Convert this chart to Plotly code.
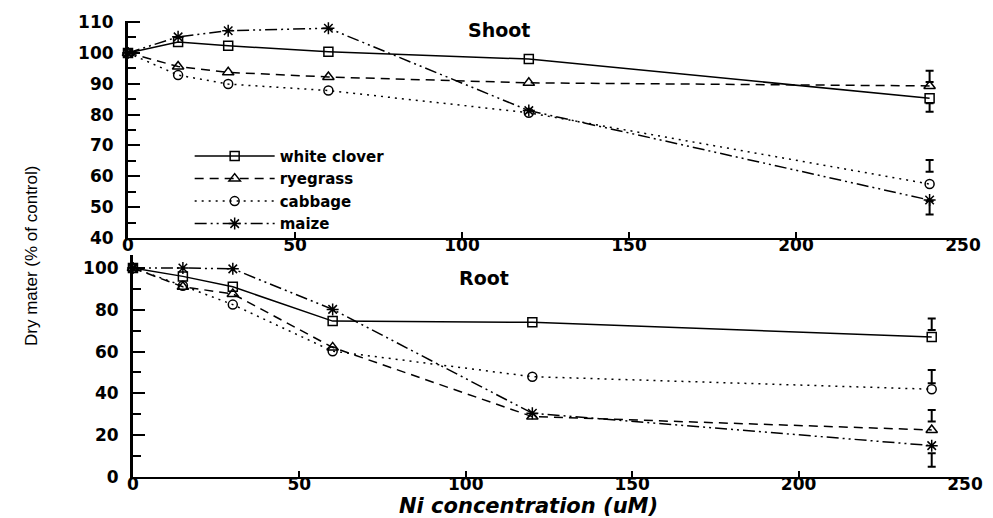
import plotly.graph_objects as go

# Ni concentration (uM)
ni_conc = [0, 15, 30, 60, 120, 240]

# Shoot dry matter (% of control)
shoot_clover = [100, 103.5, 102.3, 100.4, 98.0, 85.3]
shoot_ryegrass = [100, 95.6, 93.7, 92.2, 90.3, 89.3]
shoot_cabbage = [100, 92.8, 89.9, 87.8, 80.6, 57.5]
shoot_maize = [100, 105.2, 107.2, 108.0, 81.3, 52.3]

# Root dry matter (% of control)
root_clover = [100, 96.0, 91.0, 74.6, 74.0, 67.0]
root_ryegrass = [100, 91.0, 87.6, 62.0, 28.9, 22.5]
root_cabbage = [100, 91.5, 82.5, 60.2, 48.0, 42.0]
root_maize = [100, 100, 99.6, 80.2, 30.5, 15.0]

# LSD bars drawn beside the highest concentration (centre, half-length)
lsd_x = 240
shoot_lsd_mid = [82.3, 92.4, 63.4, 49.8]
shoot_lsd_half = [1.4, 1.8, 1.9, 2.2]
root_lsd_mid = [73.1, 29.3, 48.0, 8.1]
root_lsd_half = [2.8, 2.8, 3.2, 3.2]

species = ["white clover", "ryegrass", "cabbage", "maize"]
symbols = ["square-open", "triangle-up-open", "circle-open", "asterisk-open"]
dashes = ["solid", "9px,6px", "2px,5px", "12px,4px,2px,4px,2px,4px"]
sizes = [9, 10, 9, 10]

shoot = [shoot_clover, shoot_ryegrass, shoot_cabbage, shoot_maize]
root = [root_clover, root_ryegrass, root_cabbage, root_maize]

TICKFONT = dict(family="DejaVu Sans", size=17, color="black", weight="bold")
LEGFONT = dict(family="DejaVu Sans", size=15, color="black", weight="bold")
PANELFONT = dict(family="DejaVu Sans", size=19, color="black", weight="bold")

fig = go.Figure()

for i, name in enumerate(species):
    style = dict(
        mode="lines+markers",
        line=dict(color="black", width=1.5, dash=dashes[i]),
        marker=dict(symbol=symbols[i], size=sizes[i], color="black",
                    line=dict(width=1.5, color="black")),
        cliponaxis=False,
    )
    fig.add_trace(go.Scatter(x=ni_conc, y=shoot[i], name=name,
                             xaxis="x", yaxis="y", showlegend=True, **style))
    fig.add_trace(go.Scatter(x=ni_conc, y=root[i], name=name,
                             xaxis="x2", yaxis="y2", showlegend=False, **style))

# LSD bars
lsd_style = dict(mode="markers", marker=dict(size=1, color="rgba(0,0,0,0)"),
                 showlegend=False, hoverinfo="skip", cliponaxis=False)
fig.add_trace(go.Scatter(
    x=[lsd_x] * len(shoot_lsd_mid), y=shoot_lsd_mid, xaxis="x", yaxis="y",
    error_y=dict(type="data", array=shoot_lsd_half, color="black",
                 thickness=2, width=4), **lsd_style))
fig.add_trace(go.Scatter(
    x=[lsd_x] * len(root_lsd_mid), y=root_lsd_mid, xaxis="x2", yaxis="y2",
    error_y=dict(type="data", array=root_lsd_half, color="black",
                 thickness=2, width=4), **lsd_style))

xaxis_common = dict(
    range=[0, 250], tickvals=[0, 50, 100, 150, 200, 250],
    showline=True, linecolor="black", linewidth=2,
    ticks="inside", ticklen=6, tickwidth=1.5, tickcolor="black",
    showgrid=False, zeroline=False, tickfont=TICKFONT, automargin=False,
    ticklabelstandoff=-9,
)
yaxis_common = dict(
    showline=True, linecolor="black", linewidth=3,
    ticks="inside", ticklen=12, tickwidth=1.5, tickcolor="black",
    showgrid=False, zeroline=False, tickfont=TICKFONT, automargin=False,
    ticklabelstandoff=8,
)

fig.update_layout(
    width=993, height=518,
    margin=dict(l=0, r=0, t=0, b=0),
    paper_bgcolor="white", plot_bgcolor="white",
    xaxis=dict(domain=[0.1289, 0.9698], anchor="y", **xaxis_common),
    yaxis=dict(domain=[0.5405, 0.9604], anchor="x", range=[40, 110.5],
               tickvals=[40, 50, 60, 70, 80, 90, 100, 110],
               minor=dict(tickvals=[45, 55, 65, 75, 85, 95, 105],
                          ticks="inside", ticklen=8, tickcolor="black"),
               **yaxis_common),
    xaxis2=dict(domain=[0.1339, 0.9718], anchor="y2", **xaxis_common),
    yaxis2=dict(domain=[0.0792, 0.5068], anchor="x2", range=[0, 106],
                tickvals=[0, 20, 40, 60, 80, 100],
                minor=dict(tickvals=[10, 30, 50, 70, 90],
                           ticks="inside", ticklen=8, tickcolor="black"),
                **yaxis_common),
    legend=dict(x=0.191, y=0.73, xanchor="left", yanchor="top",
                bgcolor="rgba(0,0,0,0)", font=LEGFONT, tracegroupgap=0,
                itemwidth=80),
    showlegend=True,
    annotations=[
        dict(text="Shoot", x=499 / 993, y=1 - 30 / 518, xref="paper",
             yref="paper", xanchor="center", yanchor="middle",
             showarrow=False, font=PANELFONT),
        dict(text="Root", x=484 / 993, y=1 - 278 / 518, xref="paper",
             yref="paper", xanchor="center", yanchor="middle",
             showarrow=False, font=PANELFONT),
        dict(text="Dry mater (% of control)", x=31 / 993, y=1 - 256 / 518,
             xref="paper", yref="paper", xanchor="center", yanchor="middle",
             showarrow=False, textangle=-90,
             font=dict(family="Liberation Sans Narrow, Liberation Sans",
                       size=17, color="black")),
        dict(text="Ni concentration (uM)", x=528 / 993, y=1 - 505.5 / 518,
             xref="paper", yref="paper", xanchor="center", yanchor="middle",
             showarrow=False,
             font=dict(family="DejaVu Sans", size=21, color="black",
                       style="italic", weight="bold")),
    ],
)

fig.write_html("out.html")
